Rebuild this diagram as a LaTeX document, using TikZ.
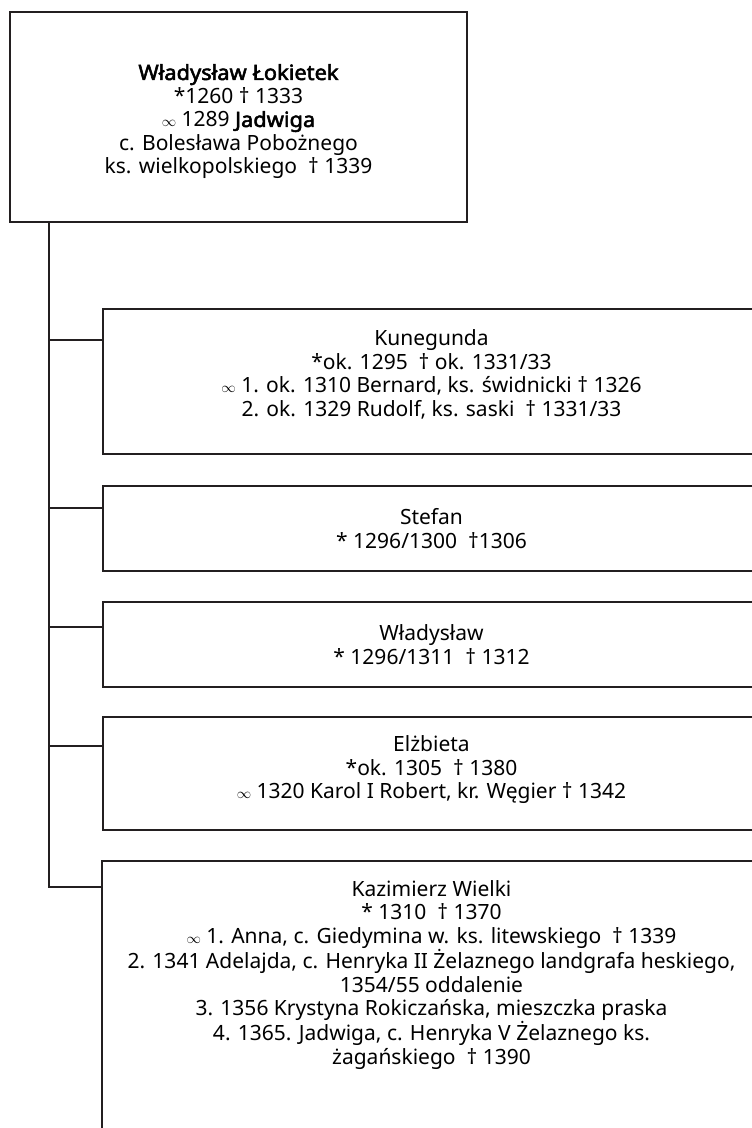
\documentclass[tikz,border=0pt]{standalone}
\usepackage{fontspec}
\setmainfont{Noto Sans}[BoldFont={Noto Sans}, BoldFeatures={FakeBold=2.5, FakeStretch=1.04}]
\usetikzlibrary{positioning, calc}
\definecolor{boxline}{RGB}{35,31,32}
\newcommand{\marr}{{\fontsize{15}{15}\selectfont$\infty$}}
\tikzset{
  rootbox/.style={rectangle, draw=boxline, line width=1.6pt, align=center,
    minimum width=457pt, minimum height=210pt, inner sep=0pt,
    font=\fontsize{21}{23.5}\selectfont},
  kidbox/.style={rectangle, draw=boxline, line width=1.6pt, align=center,
    minimum width=657pt, inner sep=0pt,
    font=\fontsize{21}{23.5}\selectfont},
  link/.style={line width=1.6pt, color=boxline}
}
\begin{document}
\begin{tikzpicture}[x=1pt, y=-1pt]
  \useasboundingbox (0,0) rectangle (752,1128);

  % Parents
  \node[rootbox] (root) at (238.5,117) {\rule{0pt}{25pt}\textbf{Władysław Łokietek}\\ *1260 † 1333\\
    \marr{} 1289 \textbf{Jadwiga}\\ c. Bolesława Pobożnego\\ ks. wielkopolskiego~ † 1339};

  % Children
  \node[kidbox, minimum height=145pt] (kun) at (431.5,381.5) {Kunegunda\\ *ok. 1295~ † ok. 1331/33\\
    \marr{} 1. ok. 1310 Bernard, ks. świdnicki † 1326\\
    2. ok. 1329 Rudolf, ks. saski~ † 1331/33\rule[-17pt]{0pt}{0pt}};
  \node[kidbox, minimum height=85pt] (ste) at (431.5,528.5) {Stefan\\ * 1296/1300~ †1306};
  \node[kidbox, minimum height=85pt] (wla) at (431.5,644.5) {Władysław\\ * 1296/1311~ † 1312};
  \node[kidbox, minimum height=113pt] (elz) at (431.5,773.5) {Elżbieta\\ *ok. 1305~ † 1380\\
    \marr{} 1320 Karol I Robert, kr. Węgier † 1342\rule[-12pt]{0pt}{0pt}};
  \node[kidbox, draw=none, minimum height=226pt] (kaz) at (431.5,975) {Kazimierz Wielki\\ * 1310~ † 1370\\
    \marr{} 1. Anna, c. Giedymina w. ks. litewskiego~ † 1339\\
    2. 1341 Adelajda, c. Henryka II Żelaznego landgrafa heskiego,\\ 1354/55 oddalenie\\
    3. 1356 Krystyna Rokiczańska, mieszczka praska\\
    4. 1365. Jadwiga, c. Henryka V Żelaznego ks.\\ żagańskiego~ † 1390};
  \coordinate (bot) at (103,1135);
  \draw[link] (kaz.north east) -- (kaz.north west) -- (kaz.north west |- bot);

  % Lines
  \coordinate (trunk) at ([xshift=40pt]root.south west);
  \coordinate (kkaz) at ([yshift=-26pt]kaz.north west);
  \draw[link] (trunk) |- (kkaz);
  \foreach \n/\d in {kun/32, ste/23, wla/26, elz/30} {
    \coordinate (k\n) at ([yshift=-\d pt]\n.north west);
    \draw[link] (k\n) -- (k\n -| trunk);
  }
\end{tikzpicture}
\end{document}
